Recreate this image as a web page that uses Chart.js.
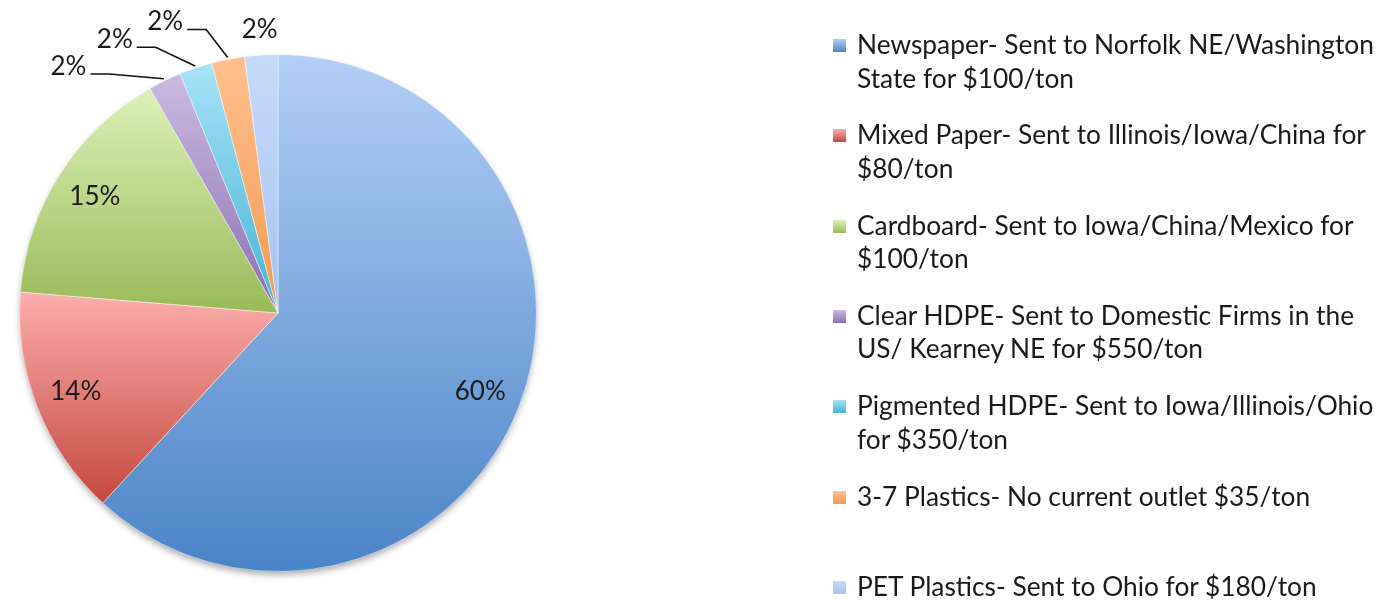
<!DOCTYPE html>
<html>
<head>
<meta charset="utf-8">
<script src="https://cdn.jsdelivr.net/npm/chart.js@4"></script>
<style>
  html, body { margin: 0; padding: 0; background: #fff; }
  #wrap { position: relative; width: 1386px; height: 600px; }
  #legend { position: absolute; left: 833px; top: 0; font-family: Lato, sans-serif; font-size: 26.3px; color: #1a1a1a; }
  .item { position: absolute; left: 0; white-space: nowrap; line-height: 33.5px; }
  .box { position: absolute; left: 0; top: 11px; width: 13px; height: 13px; }
  .txt { position: absolute; left: 24px; top: 0; }
</style>
</head>
<body>
<div id="wrap">
  <canvas id="pie"></canvas>
  <div id="legend"></div>
</div>
<script>
// categories (legend lines), values shown on the slices
var categories = [
    ["Newspaper- Sent to Norfolk NE/Washington", "State for $100/ton"],
    ["Mixed Paper- Sent to Illinois/Iowa/China for", "$80/ton"],
    ["Cardboard- Sent to Iowa/China/Mexico for", "$100/ton"],
    ["Clear HDPE- Sent to Domestic Firms in the", "US/ Kearney NE for $550/ton"],
    ["Pigmented HDPE- Sent to Iowa/Illinois/Ohio", "for $350/ton"],
    ["3-7 Plastics- No current outlet $35/ton"],
    ["PET Plastics- Sent to Ohio for $180/ton"],
];
var percentValues = [60, 14, 15, 2, 2, 2, 2];

var baseColors = ["#4a84c6", "#c4483f", "#9aba58", "#8a6fb0", "#44b4d6", "#f59a52", "#a4c2f0"];
var lightColors = ["#b3cff6", "#fcaeac", "#dcf1ba", "#cbbbe2", "#a8e2f7", "#ffc08f", "#c6dbfa"];

function sliceGradient(context) {
    var chart = context.chart;
    var i = context.dataIndex;
    var area = chart.chartArea;
    if (!area || i === undefined) {
        return baseColors[i || 0];
    }
    var cx = (area.left + area.right) / 2;
    var cy = (area.top + area.bottom) / 2;
    var r = Math.min(area.right - area.left, area.bottom - area.top) / 2;
    var total = percentValues.reduce((a, b) => a + b, 0);
    var before = 0;
    for (var k = 0; k < i; k++) before += percentValues[k];
    var a0 = -Math.PI / 2 + (before / total) * 2 * Math.PI;
    var a1 = a0 + (percentValues[i] / total) * 2 * Math.PI;
    var ys = [cy, cy + r * Math.sin(a0), cy + r * Math.sin(a1)];
    [-Math.PI / 2, Math.PI / 2, 3 * Math.PI / 2].forEach((t) => {
        if (t > a0 && t < a1) ys.push(cy + r * Math.sin(t));
    });
    var g = chart.ctx.createLinearGradient(0, Math.min(...ys), 0, Math.max(...ys));
    g.addColorStop(0, lightColors[i]);
    g.addColorStop(1, baseColors[i]);
    return g;
}

// soft shadow under the pie
var shadowPlugin = {
    id: "pieShadow",
    beforeDatasetsDraw(chart) {
        var arc = chart.getDatasetMeta(0).data[0];
        if (!arc) return;
        var ctx = chart.ctx;
        ctx.save();
        ctx.shadowColor = "rgba(0,0,0,0.35)";
        ctx.shadowBlur = 7;
        ctx.shadowOffsetY = 4;
        ctx.fillStyle = "#ffffff";
        ctx.beginPath();
        ctx.arc(arc.x, arc.y, arc.outerRadius - 1, 0, Math.PI * 2);
        ctx.fill();
        ctx.restore();
    },
};

// percentage labels, small slices pushed outside with leader lines
var labelPlugin = {
    id: "pctLabels",
    afterDatasetsDraw(chart) {
        var ctx = chart.ctx;
        var meta = chart.getDatasetMeta(0);
        var data = chart.data.datasets[0].data;
        var total = data.reduce((a, b) => a + b, 0);
        var sep = (10.5 * Math.PI) / 180;
        var outAngles = [];
        for (var i = data.length - 1; i >= 0; i--) {
            var a = meta.data[i];
            var mid = (a.startAngle + a.endAngle) / 2;
            if (data[i] / total < 0.05) {
                var next = outAngles[i + 1];
                outAngles[i] = next === undefined ? mid : Math.min(mid, next - sep);
            }
        }
        ctx.save();
        ctx.font = "26px Lato";
        ctx.fillStyle = "#1a1a1a";
        ctx.strokeStyle = "#111";
        ctx.lineWidth = 1.6;
        meta.data.forEach((a, i) => {
            var mid = (a.startAngle + a.endAngle) / 2;
            var r = a.outerRadius;
            var text = data[i] + "%";
            if (outAngles[i] === undefined) {
                ctx.textAlign = "center";
                ctx.textBaseline = "middle";
                ctx.fillText(text, a.x + Math.cos(mid) * r * 0.84, a.y + Math.sin(mid) * r * 0.84);
                return;
            }
            var ang = outAngles[i];
            if (mid - ang < 0.01) {
                ctx.textAlign = "center";
                ctx.textBaseline = "middle";
                ctx.fillText(text, a.x + Math.cos(mid) * (r + 25), a.y + Math.sin(mid) * (r + 25));
                return;
            }
            var sx = a.x + Math.cos(mid) * (r + 2);
            var sy = a.y + Math.sin(mid) * (r + 2);
            var ex = a.x + Math.cos(ang) * (r + 34);
            var ey = a.y + Math.sin(ang) * (r + 34);
            ctx.beginPath();
            ctx.moveTo(sx, sy);
            ctx.lineTo(ex, ey);
            ctx.lineTo(ex - 19, ey);
            ctx.stroke();
            ctx.textAlign = "right";
            ctx.textBaseline = "alphabetic";
            ctx.fillText(text, ex - 23, ey + 1);
        });
        ctx.restore();
    },
};

var ctx = document.getElementById("pie");
var myChart = new Chart(ctx, {
    type: "pie",
    data: {
        labels: categories.map((c) => c.join(" ")),
        datasets: [
            {
                data: percentValues,
                backgroundColor: sliceGradient,
                borderColor: "rgba(255,255,255,0.45)",
                borderWidth: 1,
            },
        ],
    },
    options: {
        responsive: true,
        maintainAspectRatio: false,
        animation: false,
        layout: {
            padding: { left: 18, top: 54, right: 848, bottom: 28 },
        },
        plugins: {
            legend: { display: false },
            tooltip: { enabled: false },
        },
    },
    plugins: [shadowPlugin, labelPlugin],
});

// legend on the right
var legend = document.getElementById("legend");
categories.forEach((lines, i) => {
    var item = document.createElement("div");
    item.className = "item";
    item.style.top = (45 + i * 90.3 - 17) + "px";
    var box = document.createElement("div");
    box.className = "box";
    box.style.background = "linear-gradient(" + lightColors[i] + ", " + baseColors[i] + ")";
    var txt = document.createElement("div");
    txt.className = "txt";
    txt.innerHTML = lines.join("<br>");
    item.appendChild(box);
    item.appendChild(txt);
    legend.appendChild(item);
});
</script>
</body>
</html>
